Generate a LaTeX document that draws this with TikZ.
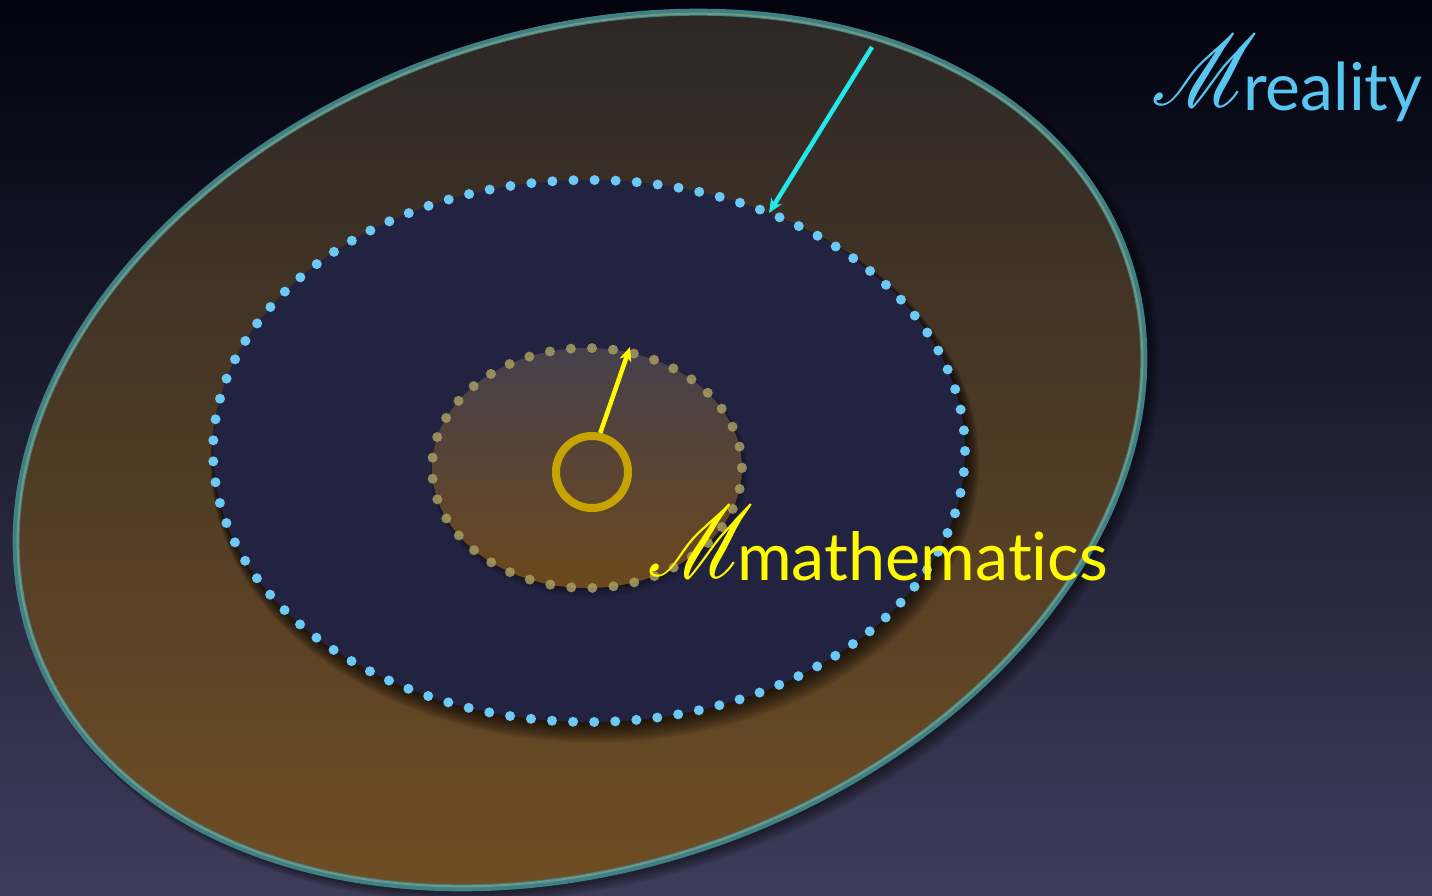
\documentclass[tikz,border=0pt]{standalone}
\usepackage{fontspec}
\setmainfont[Ligatures={NoCommon}]{Lato}
\usepackage{mathrsfs}
\usetikzlibrary{arrows.meta}
\definecolor{bgtop}{RGB}{2,3,14}
\definecolor{bgmid}{RGB}{20,22,52}
\definecolor{bgbot}{RGB}{62,60,90}
\definecolor{outtop}{RGB}{44,39,38}
\definecolor{outmid}{RGB}{74,54,38}
\definecolor{outbot}{RGB}{112,78,36}
\definecolor{rimdark}{RGB}{62,128,132}
\definecolor{rimlight}{RGB}{112,152,132}
\definecolor{navy}{RGB}{34,35,64}
\definecolor{skydot}{RGB}{108,200,245}
\definecolor{smtop}{RGB}{70,64,76}
\definecolor{smbot}{RGB}{108,72,28}
\definecolor{olivedot}{RGB}{168,158,98}
\definecolor{gold}{RGB}{200,164,0}
\definecolor{cyanarrow}{RGB}{34,232,232}
\definecolor{reallbl}{RGB}{88,198,240}
\definecolor{mathlbl}{RGB}{255,250,0}
\tikzset{
  outerrot/.style={rotate around={19.7:(580,450)}},
  shadowfill/.style={fill=black,opacity=0.07},
  dotline/.style={line width=#1,line cap=round},
  arrowline/.style={line width=4.5pt,-{Stealth[length=14pt,width=12pt,inset=4pt]}},
  lbl/.style={inner sep=0pt,anchor=base west}
}
\begin{document}
\begin{tikzpicture}[x=1pt,y=-1pt]
\useasboundingbox (0,0) rectangle (1432,895);
% background
\shade[top color=bgtop,middle color=bgmid,bottom color=bgbot] (0,0) rectangle (1432,895);
% outer ellipse shadow
\foreach \k in {1,...,10}
  \fill[shadowfill,outerrot] (580+\k*0.6,450+\k*0.9) ellipse [x radius=580+\k*0.8, y radius=416+\k*0.8];
% outer ellipse fill
\begin{scope}
  \clip[outerrot] (580,450) ellipse [x radius=580, y radius=416];
  \shade[top color=outtop,middle color=outmid,bottom color=outbot] (0,10) rectangle (1432,892);
\end{scope}
\draw[rimdark,line width=7pt,outerrot] (580,450) ellipse [x radius=580, y radius=416];
\draw[rimlight,line width=2pt,outerrot] (580,450) ellipse [x radius=578.5, y radius=414.5];
% inner ellipse shadow
\foreach \k in {1,...,12}
  \fill[shadowfill,opacity=0.08] (589+\k*0.5,451+\k*1.0) ellipse [x radius=376+\k*0.7, y radius=271+\k*0.7];
\fill[navy] (589,451) ellipse [x radius=376, y radius=271];
\draw[skydot,dotline=10pt,dash pattern=on 0pt off 21.1pt] (589,451) ellipse [x radius=376, y radius=271];
% small ellipse
\foreach \k in {1,...,6}
  \fill[shadowfill,opacity=0.06] (587+\k*0.5,468+\k*1.0) ellipse [x radius=155+\k*0.6, y radius=120+\k*0.6];
\shade[top color=smtop,bottom color=smbot] (587,468) ellipse [x radius=155, y radius=120];
\draw[olivedot,opacity=0.85,dotline=10pt,dash pattern=on 0pt off 21.15pt] (587,468) ellipse [x radius=155, y radius=120];
% ring
\node[circle,draw=gold,line width=8pt,minimum size=72pt,inner sep=0pt] (ring) at (592,472) {};
% arrows
\coordinate (ytip) at (630,347);
\draw[mathlbl,arrowline] (ring.78) -- (ytip);
\coordinate (cstart) at (872,47);
\coordinate (ctip) at (769,213);
\draw[cyanarrow,arrowline] (cstart) -- (ctip);
% labels
\node[lbl,text=reallbl] (mreal) at (1151,105) {\scalebox{8.6}[10.1]{$\mathscr{M}$}};
\node[lbl,text=reallbl] (wreal) at (1243,110) {\fontsize{66}{66}\selectfont reality};
\node[lbl,text=mathlbl] (mmath) at (647,576) {\scalebox{8.6}[10.1]{$\mathscr{M}$}};
\node[lbl,text=mathlbl] (wmath) at (737,580) {\fontsize{66.5}{66.5}\selectfont mathemat\kern0pt ics};
\end{tikzpicture}
\end{document}
